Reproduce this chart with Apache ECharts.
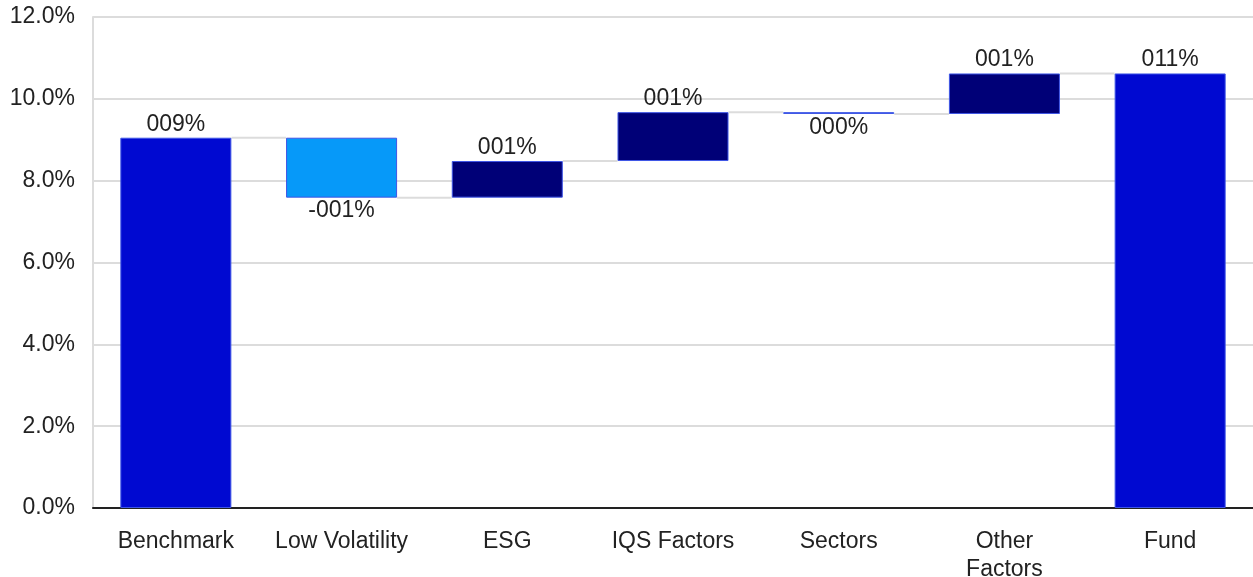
<!DOCTYPE html>
<html>
<head>
<meta charset="utf-8">
<script src="https://cdn.jsdelivr.net/npm/echarts@6/dist/echarts.min.js"></script>
<style>
  html, body { margin: 0; padding: 0; background: #fff; }
  #chart { width: 1253px; height: 577px; }
</style>
</head>
<body>
<div id="chart"></div>
<script>
  // waterfall steps (percent); first and last are totals
  const categories = ['Benchmark', 'Low Volatility', 'ESG', 'IQS Factors', 'Sectors', 'Other\nFactors', 'Fund'];
  const deltas = [9.05, -1.465, 0.895, 1.195, -0.045, 0.99, 10.62];
  const isTotal = [true, false, false, false, false, false, true];
  const valueLabels = ['009%', '-001%', '001%', '001%', '000%', '001%', '011%'];
  const yTicks = [0, 2, 4, 6, 8, 10, 12];

  const colTotal = '#0009d1';
  const colUp = '#000077';
  const colDown = '#0699f9';
  const barShare = 0.67;

  // build base / visible stacks from the deltas
  const base = [];
  const shown = [];
  const ends = [];
  let level = 0;
  deltas.forEach((d, i) => {
    if (isTotal[i]) {
      base.push(0);
      shown.push(d);
      level = d;
    } else {
      const next = level + d;
      base.push(Math.min(level, next));
      shown.push(Math.abs(d));
      level = next;
    }
    ends.push(level);
  });

  // connector rows: [from index, level]
  const connectorData = ends.slice(0, -1).map((v, i) => [i, v]);

  const chart = echarts.init(document.getElementById('chart'));
  const txt = { fontFamily: 'Liberation Sans, Arial, sans-serif', fontSize: 23, color: '#222' };

  chart.setOption({
    animation: false,
    grid: { left: 93, right: 0, top: 17, bottom: 69, outerBoundsMode: 'none' },
    xAxis: {
      type: 'category',
      data: categories,
      axisLine: { lineStyle: { color: '#222', width: 2 } },
      axisTick: { show: false },
      axisLabel: { ...txt, interval: 0, margin: 20, lineHeight: 28 },
    },
    yAxis: {
      type: 'value',
      min: yTicks[0],
      max: yTicks[yTicks.length - 1],
      interval: 2,
      axisLine: { show: true, lineStyle: { color: '#dcdcdc', width: 2 } },
      axisTick: { show: false },
      splitLine: { lineStyle: { color: '#dcdcdc', width: 2 } },
      axisLabel: { ...txt, margin: 18, formatter: (v) => v.toFixed(1) + '%' },
    },
    series: [
      {
        type: 'custom',
        z: 1,
        silent: true,
        data: connectorData,
        renderItem: (params, api) => {
          const i = api.value(0);
          const v = api.value(1);
          const p1 = api.coord([i, v]);
          const p2 = api.coord([i + 1, v]);
          const half = (api.size([1, 0])[0] * barShare) / 2;
          return {
            type: 'line',
            shape: { x1: p1[0] + half, y1: p1[1], x2: p2[0] - half, y2: p2[1] },
            style: { stroke: '#dcdcdc', lineWidth: 2 },
          };
        },
      },
      {
        name: 'base',
        type: 'bar',
        stack: 'wf',
        z: 2,
        barCategoryGap: '33%',
        itemStyle: { color: 'transparent' },
        data: base,
      },
      {
        name: 'value',
        type: 'bar',
        stack: 'wf',
        z: 3,
        data: shown.map((v, i) => {
          const color = isTotal[i] ? colTotal : (deltas[i] >= 0 ? colUp : colDown);
          return {
            value: v,
            itemStyle: { color, borderColor: '#3f56e6', borderWidth: 1 },
            label: {
              show: true,
              position: !isTotal[i] && deltas[i] < 0 ? 'bottom' : 'top',
              distance: 2,
              formatter: valueLabels[i],
              ...txt,
            },
          };
        }),
      },
    ],
  });
</script>
</body>
</html>
